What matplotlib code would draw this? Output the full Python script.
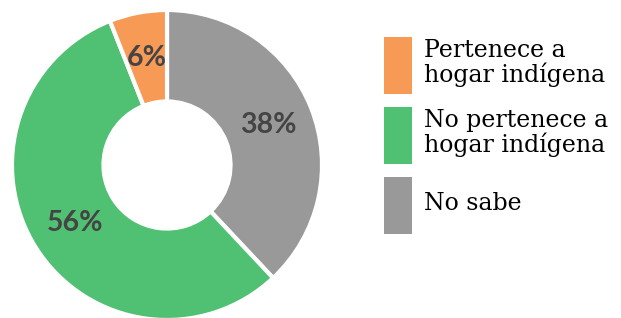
import matplotlib
matplotlib.use("Agg")
import matplotlib.pyplot as plt
from matplotlib.patches import Rectangle
import numpy as np

labels = ["Pertenece a\nhogar indígena", "No pertenece a\nhogar indígena", "No sabe"]
values = [6, 56, 38]
pct_labels = ["6%", "56%", "38%"]
colors = ["#F79A56", "#50C073", "#999999"]

W, H = 621, 318
fig = plt.figure(figsize=(W / 100, H / 100), dpi=100)
ax = fig.add_axes([12 / W, (H - 320) / H, 310 / W, 310 / H])

# draw clockwise from top: gray, green, orange
order = [2, 1, 0]
wedges, _ = ax.pie([values[i] for i in order], colors=[colors[i] for i in order],
                   startangle=90, counterclock=False, radius=1.0,
                   wedgeprops=dict(width=0.59, edgecolor="white", linewidth=3))
cum = 0
for i in order:
    mid = 90 - (cum + values[i] / 2) / 100 * 360
    cum += values[i]
    r = 0.70
    ax.text(r * np.cos(np.radians(mid)), r * np.sin(np.radians(mid)), pct_labels[i],
            ha="center", va="center", fontsize=20.5, fontweight="bold", color="#444444",
            family=["Lato", "DejaVu Sans"])
ax.set_xlim(-1, 1)
ax.set_ylim(-1, 1)
ax.set_aspect("equal")
ax.axis("off")

# legend
tops = [37, 107, 177]
for lab, col, top in zip(labels, colors, tops):
    fig.add_artist(Rectangle((384 / W, 1 - (top + 57) / H), 28 / W, 57 / H,
                             transform=fig.transFigure, facecolor=col, edgecolor="none"))
    fig.text(424 / W, 1 - (top + 26) / H, lab, ha="left", va="center",
             fontsize=17, family=["DejaVu Serif"], color="#000000", linespacing=0.98)

fig.savefig("out.png", dpi=100)
